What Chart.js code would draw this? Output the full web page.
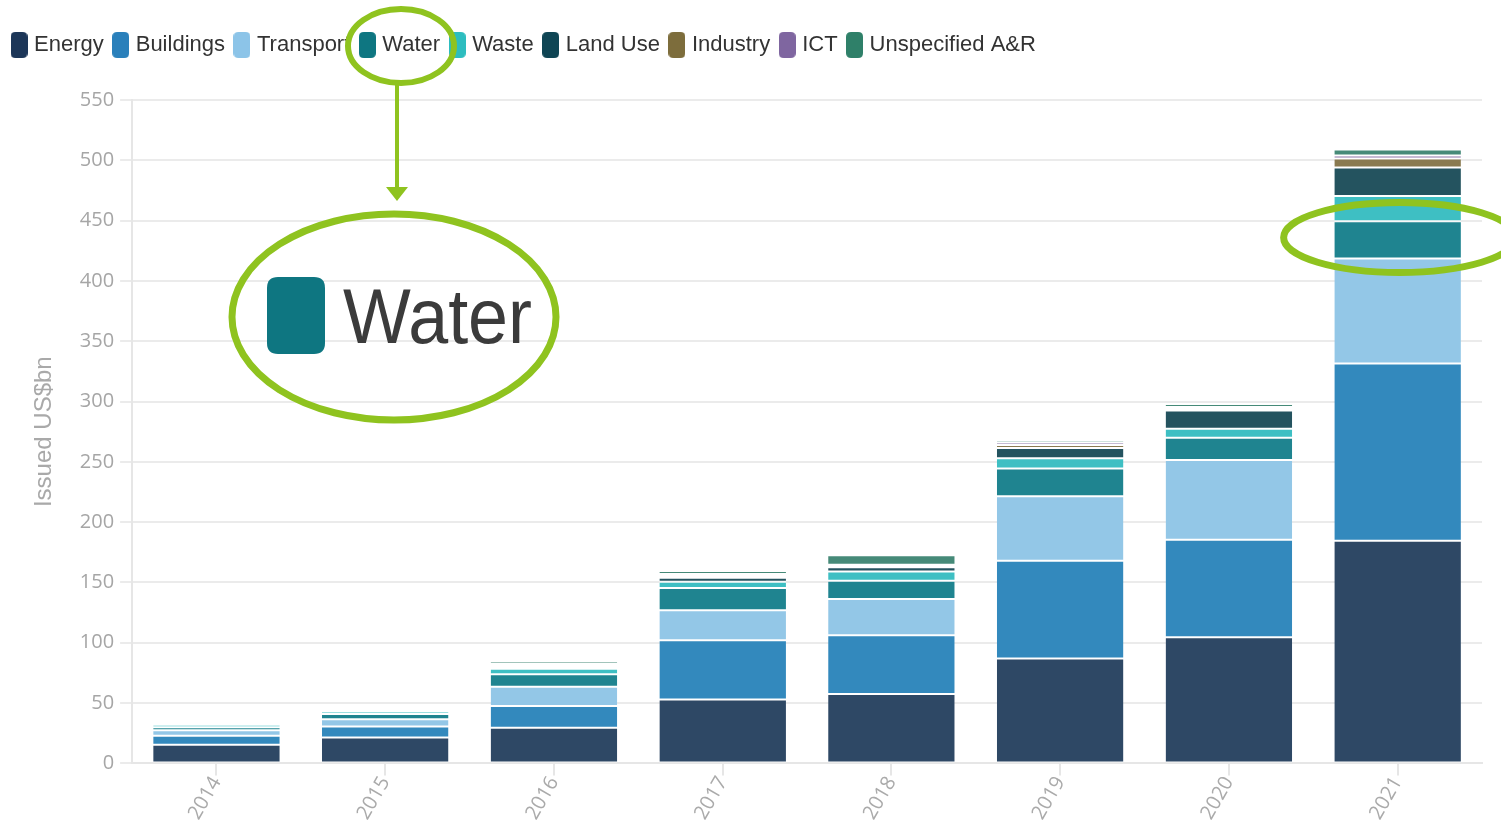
<!DOCTYPE html>
<html><head><meta charset="utf-8">
<script src="https://cdn.jsdelivr.net/npm/chart.js@4.4.1/dist/chart.umd.min.js"></script>
<style>html,body{margin:0;padding:0;background:#fff;}#wrap{width:1501px;height:826px;}</style>
</head><body><div id="wrap"><canvas id="c" width="1501" height="826"></canvas></div>
<script>
const years = ['2014','2015','2016','2017','2018','2019','2020','2021'];
const energy      = [15.5, 21.5, 29.5, 53,   57.5, 87,   104.5, 184.5];
const buildings   = [7.5,  9,    18,   49,   48.7, 81,   81,    147];
const transport   = [4.5,  6,    16,   25,   30,   53.5, 66,    87];
const water       = [2.5,  4.5,  10.5, 18.5, 15.3, 23,   18.5,  31];
const waste       = [2,    2,    4.5,  5,    7.5,  8.5,  7.5,   21];
const landUse     = [0.5,  0.5,  1.5,  3.5,  3.6,  8.5,  15,    23.5];
const industry    = [0.2,  0.2,  1,    1.5,  1,    2.5,  1.5,   7.5];
const ict         = [0.2,  0.2,  1.5,  1.5,  1,    2,    1.5,   2.5];
const unspecified = [1.5,  1,    2,    2.5,  8,    2,    2.5,   5];
const yTicks = [0,50,100,150,200,250,300,350,400,450,500,550];

const seriesNames = ['Energy','Buildings','Transport','Water','Waste','Land Use','Industry','ICT','Unspecified A&R'];
const seriesData = [energy, buildings, transport, water, waste, landUse, industry, ict, unspecified];
const barColors = ['#2e4865','#3389bd','#93c7e7','#1f8490','#3ebfc3','#24535f','#8a7a50','#8b76a8','#468a78'];
const legendColors = ['#1c3658','#2a80bb','#8cc4e8','#0e7681','#2dbdbf','#0f4554','#7d6d3c','#7f66a0','#2f8069'];

function roundRectPath(ctx,x,y,w,h,r){
  ctx.beginPath();
  ctx.moveTo(x+r,y);ctx.lineTo(x+w-r,y);ctx.quadraticCurveTo(x+w,y,x+w,y+r);
  ctx.lineTo(x+w,y+h-r);ctx.quadraticCurveTo(x+w,y+h,x+w-r,y+h);
  ctx.lineTo(x+r,y+h);ctx.quadraticCurveTo(x,y+h,x,y+h-r);
  ctx.lineTo(x,y+r);ctx.quadraticCurveTo(x,y,x+r,y);ctx.closePath();
}
function makeBox(color){
  const cv=document.createElement('canvas');cv.width=17;cv.height=26;
  const c=cv.getContext('2d');c.fillStyle=color;roundRectPath(c,0,0,17,26,5);c.fill();
  return cv;
}

const datasets = seriesNames.map((n,i)=>({
  label:n, data:seriesData[i], backgroundColor:barColors[i],
  borderColor:'#ffffff', borderWidth:{top:1,bottom:1,left:0,right:0}, borderSkipped:false,
  categoryPercentage:1, barPercentage:0.75
}));

const GREEN='#8fc31f';
const legendGap={id:'legendGap',beforeInit(chart){const orig=chart.legend.fit;chart.legend.fit=function(){orig.call(this);this.height+=34;};}};
const annot={id:'annot',afterDraw(chart){
  const ctx=chart.ctx;ctx.save();
  ctx.strokeStyle=GREEN;ctx.fillStyle=GREEN;
  // legend ellipse
  ctx.lineWidth=6;ctx.beginPath();ctx.ellipse(401,46,53,37,0,0,Math.PI*2);ctx.stroke();
  // arrow
  ctx.lineWidth=4;ctx.beginPath();ctx.moveTo(397,84);ctx.lineTo(397,190);ctx.stroke();
  ctx.beginPath();ctx.moveTo(386,187);ctx.lineTo(408,187);ctx.lineTo(397,201);ctx.closePath();ctx.fill();
  // callout ellipse
  ctx.lineWidth=7;ctx.beginPath();ctx.ellipse(394,317,162,103,0,0,Math.PI*2);ctx.stroke();
  // callout box + text
  ctx.fillStyle=legendColors[3];roundRectPath(ctx,267,277,58,77,11);ctx.fill();
  ctx.fillStyle='#3b3b3b';ctx.font='78px "Liberation Sans", Arial, sans-serif';ctx.textBaseline='alphabetic';
  const tw=ctx.measureText('Water').width;ctx.save();ctx.translate(343,343);ctx.scale(189/tw,1);ctx.fillText('Water',0,0);ctx.restore();
  // 2021 ellipse
  const xs=chart.scales.x, ys=chart.scales.y;
  ctx.strokeStyle=GREEN;ctx.lineWidth=7;ctx.beginPath();
  ctx.ellipse(xs.getPixelForValue(7)+2,ys.getPixelForValue(436),116,35,0,0,Math.PI*2);ctx.stroke();
  ctx.restore();
}};

new Chart(document.getElementById('c'),{
  type:'bar',
  data:{labels:years,datasets},
  options:{
    responsive:false,animation:false,
    layout:{padding:{top:21,left:2,right:19,bottom:5}},
    plugins:{
      tooltip:{enabled:false},
      legend:{display:true,position:'top',align:'start',
        labels:{usePointStyle:true,pointStyleWidth:8,boxHeight:22,padding:13,color:'#333',
          font:{size:22,family:'"Liberation Sans", Arial, sans-serif'},
          generateLabels(chart){return chart.data.datasets.map((ds,i)=>({text:ds.label,fillStyle:legendColors[i],strokeStyle:'rgba(0,0,0,0)',lineWidth:0,pointStyle:makeBox(legendColors[i]),hidden:!chart.isDatasetVisible(i),datasetIndex:i,fontColor:'#333'}));}
        }}
    },
    scales:{
      x:{stacked:true,
        grid:{display:true,drawOnChartArea:false,drawTicks:true,tickLength:12,color:'#e6e6e6',lineWidth:2,offset:false},
        border:{display:true,color:'#e6e6e6',width:2},
        ticks:{color:'#aaaaaa',font:{size:20,family:'"Open Sans", sans-serif'},maxRotation:60,minRotation:60,padding:-3}},
      y:{stacked:true,min:0,max:550,
        afterBuildTicks(axis){axis.ticks=yTicks.map(v=>({value:v}));},
        grid:{color:'#ebebeb',lineWidth:2,drawTicks:true,tickLength:12},
        border:{display:true,color:'#e6e6e6',width:2},
        ticks:{color:'#a6a6a6',font:{size:20,family:'"Open Sans", sans-serif'},padding:6},
        title:{display:true,text:'Issued US$bn',color:'#a9a9a9',font:{size:24,family:'"Liberation Sans", Arial, sans-serif'},padding:{top:28,bottom:15}}}
    }
  },
  plugins:[legendGap,annot]
});
</script></body></html>
